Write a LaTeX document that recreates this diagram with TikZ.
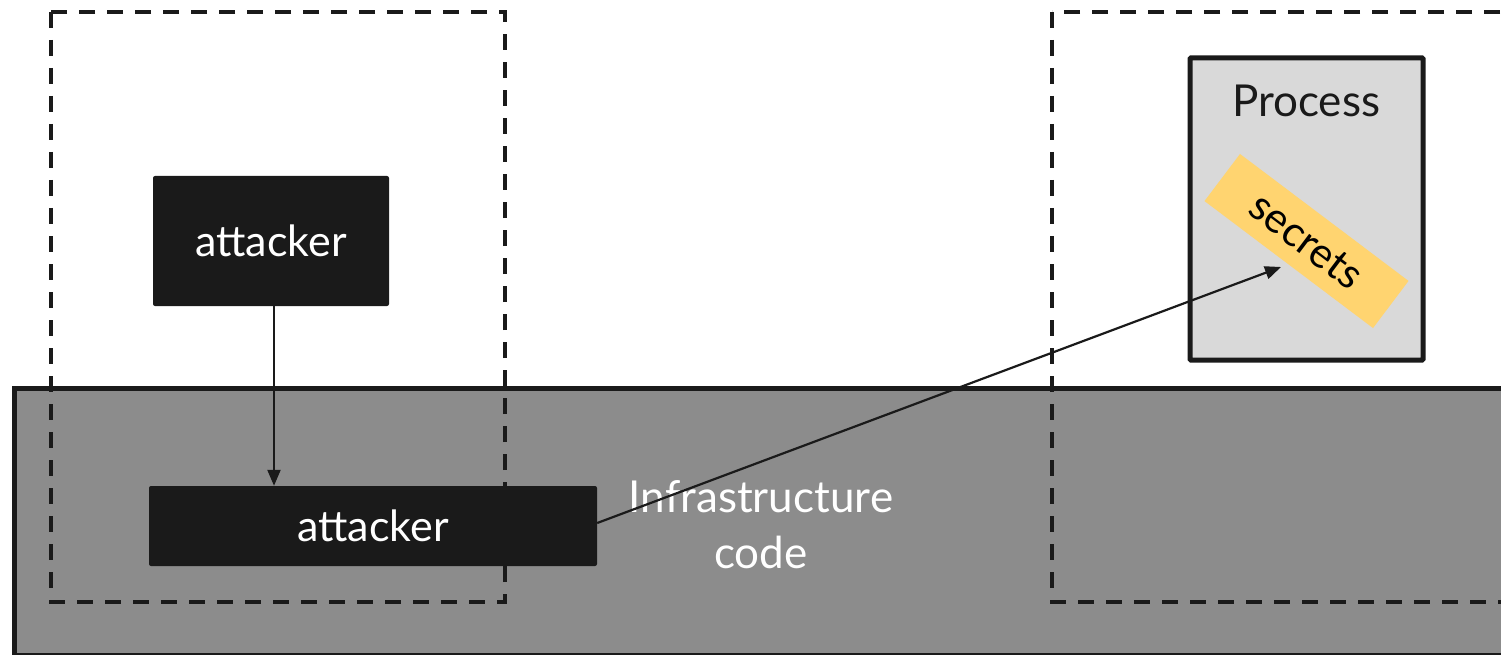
\documentclass[tikz,border=0pt]{standalone}
\usepackage{fontspec}
\setmainfont{Lato}
\usetikzlibrary{arrows.meta}
\definecolor{boxblack}{HTML}{1A1A1A}
\definecolor{bandgray}{HTML}{8C8C8C}
\definecolor{procgray}{HTML}{D9D9D9}
\definecolor{secretgold}{HTML}{FFD470}
\tikzset{
  zone/.style={draw=boxblack, line width=4pt, dash pattern=on 16pt off 12pt},
  actor/.style={fill=boxblack, rounded corners=2pt, text=white, inner sep=0pt,
    font=\fontsize{43}{46}\selectfont},
  link/.style={draw=boxblack, line width=2.2pt, -{Triangle[length=16pt,width=13pt]}},
  biglabel/.style={font=\fontsize{44}{56}\selectfont, inner sep=0pt}
}
\begin{document}
\begin{tikzpicture}[x=1pt,y=-1pt]
  \useasboundingbox (0,0) rectangle (1501,655);
  \clip (0,0) rectangle (1501,655);
  % infrastructure layer
  \node[draw=boxblack, line width=5pt, fill=bandgray, inner sep=0pt,
        minimum width=1540pt, minimum height=267pt, anchor=north west] (infra) at (12,386) {};
  \node[biglabel, text=white, align=center] (infralabel) at (761,525) {Infrastructure\\code};
  % trust zones
  \draw[zone] (51,12) rectangle (505,602);
  \draw[zone] (1052,12) rectangle (1540,602);
  % process with its secrets
  \node[draw=boxblack, line width=5pt, fill=procgray, rounded corners=1pt,
        minimum width=233pt, minimum height=302pt, inner sep=0pt] (proc) at (1306.5,209) {};
  \node[biglabel, text=boxblack] (proclabel) at (1306,101) {Process};
  \node[fill=secretgold, minimum width=211pt, minimum height=59pt, inner sep=0pt,
        rotate=-37, font=\fontsize{42}{46}\selectfont] (secrets) at (1306.5,241) {secrets};
  % attackers
  \node[actor, minimum width=236pt, minimum height=130pt] (att1) at (271,241) {attacker};
  \node[actor, minimum width=448pt, minimum height=80pt, text width=448pt, align=center]
        (att2) at (373,526) {attacker};
  \coordinate (hit) at (1281,267);
  \draw[link] (att1.south -| 274,0) -- (att2.north -| 274,0);
  \draw[link] (att2.east |- 0,523) -- (hit);
\end{tikzpicture}
\end{document}
